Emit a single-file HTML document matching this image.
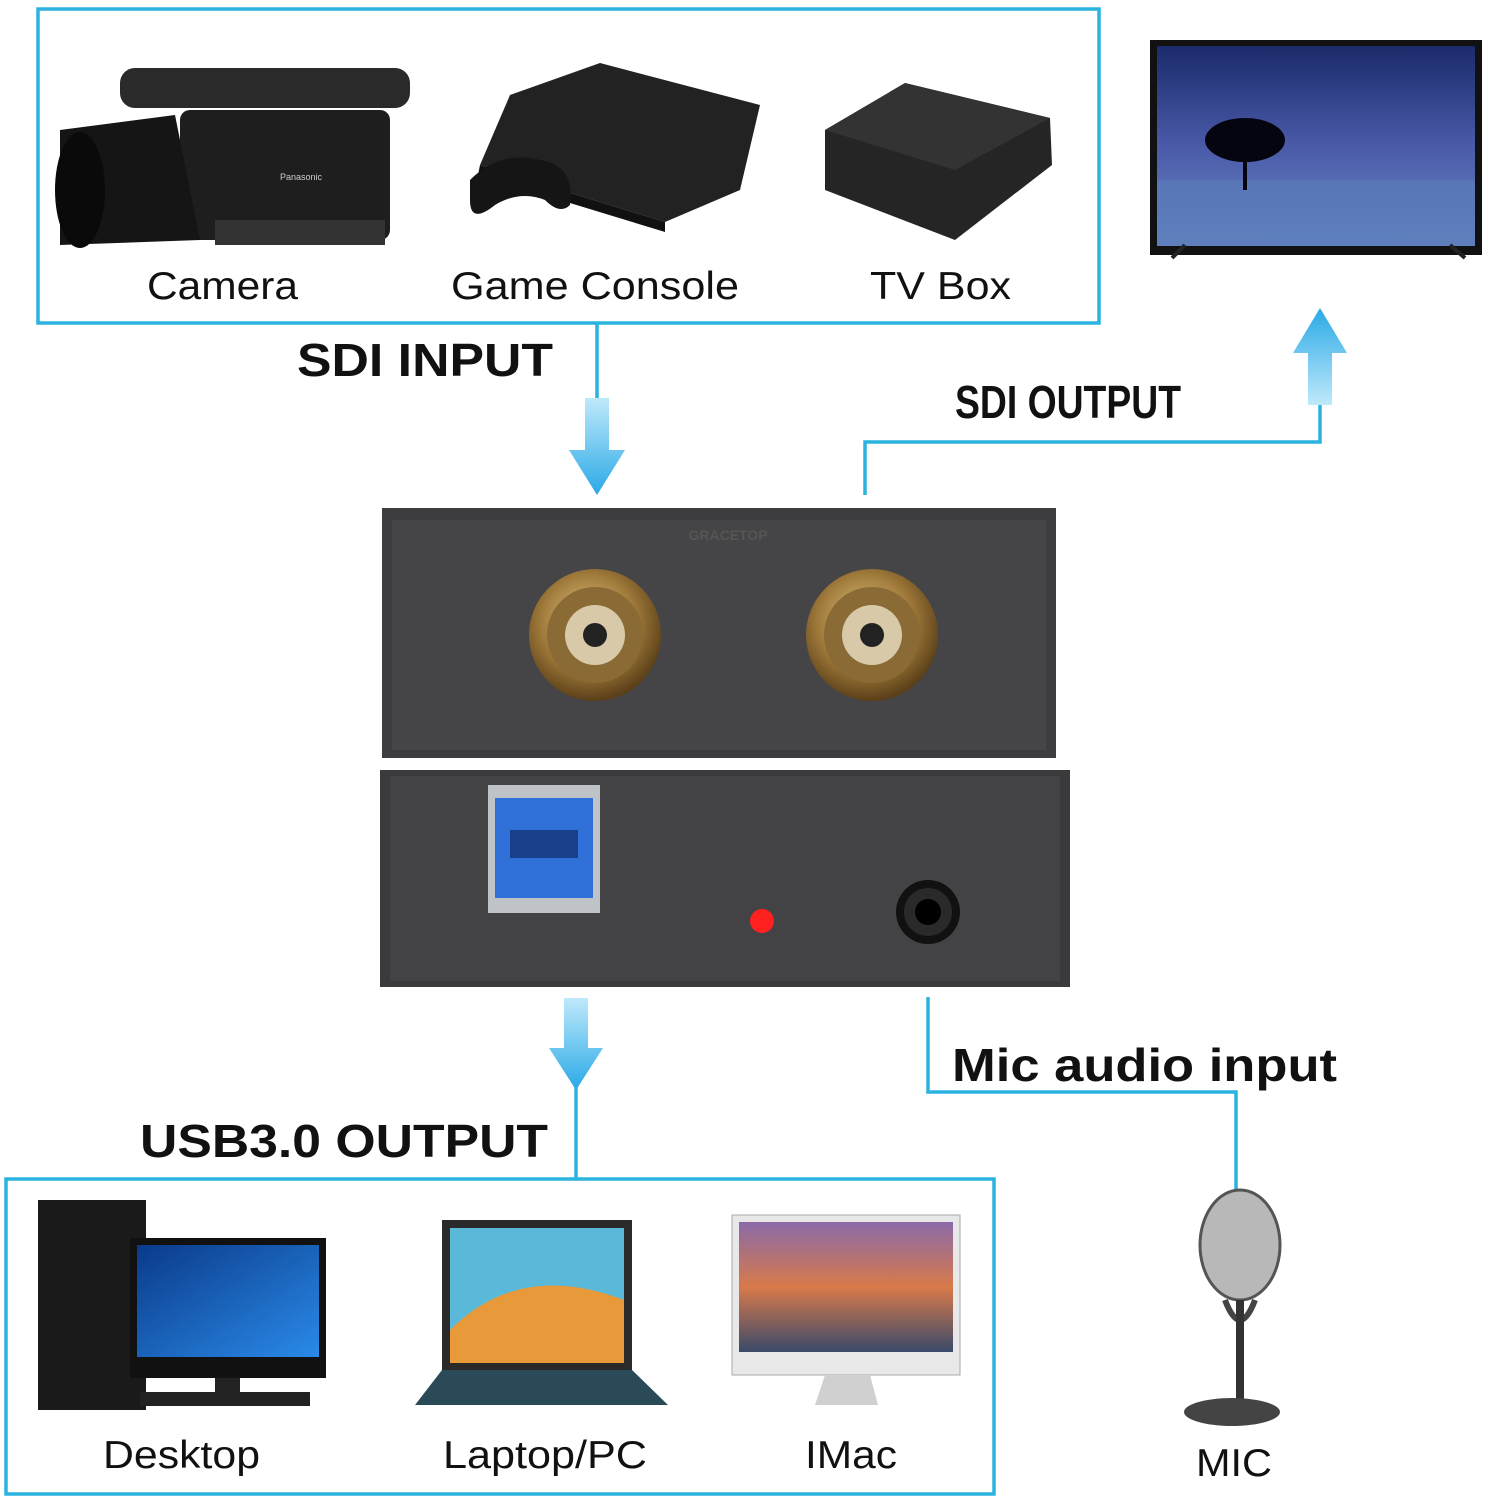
<!DOCTYPE html>
<html><head><meta charset="utf-8"><style>
html,body{margin:0;padding:0;background:#fff;}
svg{display:block}
text{font-family:"Liberation Sans",sans-serif;}
</style></head><body>
<svg width="1496" height="1500" viewBox="0 0 1496 1500" xmlns="http://www.w3.org/2000/svg">
<defs>
<linearGradient id="arr" x1="0" y1="0" x2="0" y2="1"><stop offset="0" stop-color="#bfe9fb"/><stop offset="1" stop-color="#2aa9e6"/></linearGradient>
<linearGradient id="arrU" x1="0" y1="1" x2="0" y2="0"><stop offset="0" stop-color="#bfe9fb"/><stop offset="1" stop-color="#2aa9e6"/></linearGradient>
<radialGradient id="gold" cx="0.45" cy="0.4" r="0.6"><stop offset="0" stop-color="#e6c98a"/><stop offset="0.6" stop-color="#a07a3a"/><stop offset="1" stop-color="#5a3f18"/></radialGradient>
<linearGradient id="scr" x1="0" y1="0" x2="0" y2="1"><stop offset="0" stop-color="#1a2a6a"/><stop offset="0.5" stop-color="#4a5aa8"/><stop offset="1" stop-color="#6a8ac8"/></linearGradient>
<linearGradient id="win" x1="0" y1="0" x2="1" y2="1"><stop offset="0" stop-color="#0a3a8a"/><stop offset="1" stop-color="#2a8ae8"/></linearGradient>
<linearGradient id="mac" x1="0" y1="0" x2="0" y2="1"><stop offset="0" stop-color="#8a6aa8"/><stop offset="0.5" stop-color="#d87a4a"/><stop offset="1" stop-color="#3a4a6a"/></linearGradient>
</defs>
<rect x="38" y="9" width="1061" height="314" fill="none" stroke="#2bb3df" stroke-width="3.5"/>
<rect x="6" y="1179" width="988" height="315" fill="none" stroke="#2bb3df" stroke-width="3.5"/>
<g stroke="#2bb3df" stroke-width="3.5" fill="none">
<polyline points="597,323 597,400"/>
<polyline points="865,495 865,442 1320,442 1320,400"/>
<polyline points="576,1085 576,1179"/>
<polyline points="928,997 928,1092 1236,1092 1236,1195"/>
</g>
<path d="M585,398 H609 V450 H625 L597,495 L569,450 H585 Z" fill="url(#arr)"/>
<path d="M1308,405 H1332 V353 H1347 L1320,308 L1293,353 H1308 Z" fill="url(#arrU)"/>
<path d="M564,998 H588 V1048 H603 L576,1090 L549,1048 H564 Z" fill="url(#arr)"/>
<text x="297" y="376" font-size="46" font-weight="bold" fill="#111" textLength="256" lengthAdjust="spacingAndGlyphs">SDI INPUT</text>
<text x="955" y="418" font-size="46" font-weight="bold" fill="#111" textLength="226" lengthAdjust="spacingAndGlyphs">SDI OUTPUT</text>
<text x="140" y="1157" font-size="46" font-weight="bold" fill="#111" textLength="408" lengthAdjust="spacingAndGlyphs">USB3.0 OUTPUT</text>
<text x="952" y="1081" font-size="46" font-weight="bold" fill="#111" textLength="385" lengthAdjust="spacingAndGlyphs">Mic audio input</text>
<g font-size="39" fill="#111" lengthAdjust="spacingAndGlyphs">
<text x="147" y="299" textLength="151" lengthAdjust="spacingAndGlyphs">Camera</text>
<text x="451" y="299" textLength="288" lengthAdjust="spacingAndGlyphs">Game Console</text>
<text x="870" y="299" textLength="141" lengthAdjust="spacingAndGlyphs">TV Box</text>
<text x="103" y="1468" textLength="157" lengthAdjust="spacingAndGlyphs">Desktop</text>
<text x="443" y="1468" textLength="204" lengthAdjust="spacingAndGlyphs">Laptop/PC</text>
<text x="805" y="1468" textLength="92" lengthAdjust="spacingAndGlyphs">IMac</text>
<text x="1196" y="1476" textLength="76" lengthAdjust="spacingAndGlyphs">MIC</text>
</g>
<g>
<rect x="120" y="68" width="290" height="40" rx="15" fill="#2a2a2a"/>
<rect x="180" y="110" width="210" height="130" rx="10" fill="#1e1e1e"/>
<path d="M60,130 L175,115 L200,240 L60,245 Z" fill="#151515"/>
<ellipse cx="80" cy="190" rx="25" ry="58" fill="#0a0a0a"/>
<rect x="215" y="220" width="170" height="25" fill="#333"/>
<text x="280" y="180" font-size="9" fill="#ccc">Panasonic</text>
</g>
<path d="M510,95 L600,63 L760,105 L740,190 L665,222 L480,165 Z" fill="#222"/>
<path d="M480,165 L665,222 L665,232 L478,175 Z" fill="#111"/>
<path d="M470,180 Q500,150 540,160 Q575,165 570,205 Q560,215 545,200 Q520,190 495,205 Q470,225 470,200 Z" fill="#151515"/>
<path d="M825,130 L905,83 L1050,118 L1052,165 L955,240 L825,190 Z" fill="#252525"/>
<path d="M825,130 L905,83 L1050,118 L955,170 Z" fill="#333"/>
<rect x="1150" y="40" width="332" height="215" fill="#111"/>
<rect x="1157" y="46" width="318" height="200" fill="url(#scr)"/>
<rect x="1157" y="180" width="318" height="66" fill="#5a7ab8" opacity="0.7"/>
<ellipse cx="1245" cy="140" rx="40" ry="22" fill="#050510"/>
<rect x="1243" y="140" width="4" height="50" fill="#050510"/>
<path d="M1185,245 L1172,258 M1450,245 L1465,258" stroke="#222" stroke-width="4"/>
<rect x="382" y="508" width="674" height="250" fill="#3d3d3f"/>
<rect x="392" y="520" width="654" height="230" fill="#454547"/>
<text x="728" y="540" font-size="14" fill="#555" text-anchor="middle" font-weight="bold">GRACETOP</text>
<rect x="380" y="770" width="690" height="217" fill="#3a3a3c"/>
<rect x="390" y="776" width="670" height="205" fill="#434345"/>
<circle cx="595" cy="635" r="66" fill="url(#gold)"/><circle cx="595" cy="635" r="48" fill="#8a6a35"/><circle cx="595" cy="635" r="30" fill="#d8c9a8"/><circle cx="595" cy="635" r="12" fill="#222"/>
<circle cx="872" cy="635" r="66" fill="url(#gold)"/><circle cx="872" cy="635" r="48" fill="#8a6a35"/><circle cx="872" cy="635" r="30" fill="#d8c9a8"/><circle cx="872" cy="635" r="12" fill="#222"/>
<rect x="488" y="785" width="112" height="128" fill="#bfc3c7"/>
<rect x="495" y="798" width="98" height="100" fill="#2f6fd8"/>
<rect x="510" y="830" width="68" height="28" fill="#1a3f8a"/>
<circle cx="762" cy="921" r="12" fill="#ff2020"/>
<circle cx="928" cy="912" r="32" fill="#111"/><circle cx="928" cy="912" r="24" fill="#2a2a2a"/><circle cx="928" cy="912" r="13" fill="#000"/>
<rect x="38" y="1200" width="108" height="210" fill="#1a1a1a"/>
<rect x="130" y="1238" width="196" height="140" fill="#111"/>
<rect x="137" y="1245" width="182" height="112" fill="url(#win)"/>
<rect x="215" y="1378" width="25" height="20" fill="#222"/>
<rect x="140" y="1392" width="170" height="14" fill="#222"/>
<rect x="442" y="1220" width="190" height="150" fill="#2a2a2a"/>
<rect x="450" y="1228" width="174" height="135" fill="#5ab8d8"/>
<path d="M450,1330 Q520,1260 624,1300 V1363 H450 Z" fill="#e89a3a"/>
<path d="M442,1370 H632 L668,1405 H415 Z" fill="#2a4a58"/>
<rect x="732" y="1215" width="228" height="160" fill="#e8e8e8" stroke="#aaa"/>
<rect x="739" y="1222" width="214" height="130" fill="url(#mac)"/>
<path d="M825,1375 H870 L878,1405 H815 Z" fill="#d0d0d0"/>
<ellipse cx="1240" cy="1245" rx="40" ry="55" fill="#b8b8b8" stroke="#555" stroke-width="3"/>
<path d="M1225,1300 Q1240,1340 1255,1300" stroke="#444" stroke-width="6" fill="none"/>
<rect x="1236" y="1300" width="8" height="100" fill="#333"/>
<ellipse cx="1232" cy="1412" rx="48" ry="14" fill="#444"/>
</svg>
</body></html>
